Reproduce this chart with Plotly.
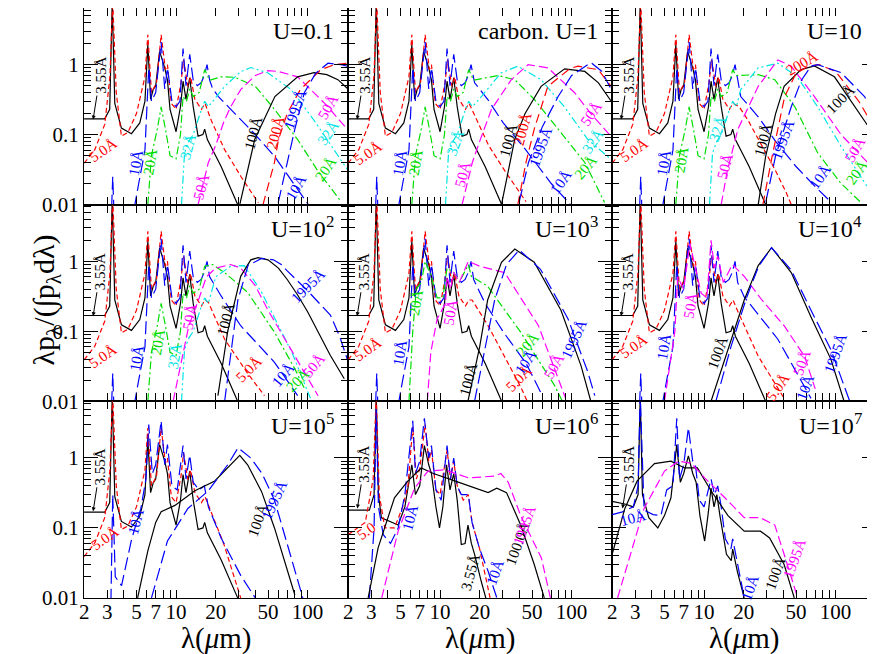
import numpy as np
import plotly.graph_objects as go
from plotly.subplots import make_subplots

# ---------------- data (wavelength in micron, normalised lambda*p_lambda) ----------------
# shared short-wavelength parts, read from the U=0.1 panel (same shape up to U=1e5)
a3_x = [2.0, 2.87, 3.13, 3.27, 3.42, 3.84, 4.58, 5.3, 5.8, 6.1, 6.4, 6.7, 7.0, 7.5, 8.2, 8.6, 9.0,
        10.0, 10.8, 11.3, 11.9, 12.7, 13.5, 14.7, 16.0, 16.5, 17.3, 22.0, 29.0, 33.0]
a3_y = [0.168, 0.168, 0.23, 8.0, 0.28, 0.124, 0.103, 0.147, 0.3, 1.94, 0.32, 0.44, 0.5, 1.55, 0.9, 0.6, 0.23,
        0.11, 0.25, 0.58, 0.32, 0.65, 0.25, 0.095, 0.1, 0.12, 0.085, 0.035, 0.0106, 0.006]

a5_x = [2.0, 2.41, 2.87, 3.14, 3.3, 3.51, 3.84, 4.3, 5.0, 5.8, 6.1, 6.5, 7.1, 7.7, 8.3, 8.6, 9.2,
        10.0, 10.9, 11.4, 12.3, 12.9, 13.9, 15.6, 16.6]
a5_y = [0.039, 0.061, 0.14, 0.67, 8.0, 0.40, 0.095, 0.107, 0.2, 0.67, 2.68, 0.4, 0.55, 2.68, 0.85, 1.0, 0.28,
        0.23, 0.55, 1.17, 0.49, 0.67, 0.32, 0.23, 0.28]

a10_x = [3.2, 3.3, 3.4, 4.7, 5.2, 5.8, 6.2, 6.5, 7.0, 7.7, 8.2, 8.6, 9.3, 10.0, 10.7, 11.3, 11.9, 12.7,
         13.5, 14.5, 15.5, 16.4, 17.2]
a10_y = [0.005, 0.025, 0.005, 0.007, 0.02, 0.06, 0.9, 0.3, 0.4, 2.1, 0.45, 0.9, 0.3, 0.25, 0.3, 1.7, 0.5, 1.4,
         0.6, 0.5, 0.55, 0.7, 1.0]

a20_x = [6.1, 6.5, 7.2, 7.7, 8.3, 9.0, 10.0, 10.8, 11.3, 12.0, 12.7, 13.5, 15.0, 16.5]
a20_y = [0.01, 0.05, 0.12, 0.25, 0.12, 0.05, 0.045, 0.1, 0.35, 0.3, 0.45, 0.35, 0.4, 0.85]

a32_x = [11.0, 11.6, 12.5, 13.5, 15.6, 16.5, 17.6]
a32_y = [0.01, 0.055, 0.08, 0.1, 0.23, 0.3, 0.25]

# U = 0.1
u01_a5_tx = [18.5, 23.4, 31.2, 42.2]
u01_a5_ty = [0.16, 0.061, 0.025, 0.0106]
u01_a10_tx = [18.0, 19.0, 21, 28, 40, 56, 84, 110]
u01_a10_ty = [0.6, 0.45, 0.35, 0.2, 0.1, 0.049, 0.016, 0.008]
u01_a20_tx = [18, 22, 28, 35, 40, 56, 84, 120, 180]
u01_a20_ty = [0.6, 0.67, 0.66, 0.55, 0.49, 0.23, 0.085, 0.03, 0.011]
u01_a32_tx = [19, 23.4, 31.2, 37, 50, 75, 112, 150, 200]
u01_a32_ty = [0.3, 0.49, 0.8, 0.91, 0.76, 0.44, 0.16, 0.07, 0.032]
u01_a50_x = [14.7, 17.6, 20, 23, 26, 31, 40, 50, 60, 84, 135, 200]
u01_a50_y = [0.01, 0.04, 0.07, 0.15, 0.25, 0.44, 0.7, 0.82, 0.8, 0.67, 0.28, 0.12]
u01_a100_x = [30.5, 39.6, 56.4, 84, 112, 140, 170, 200]
u01_a100_y = [0.01, 0.085, 0.35, 0.67, 0.77, 0.72, 0.61, 0.46]
u01_a200_x = [45.8, 56, 60, 70, 88, 126, 160, 200]
u01_a200_y = [0.01, 0.04, 0.085, 0.2, 0.44, 0.85, 1.0, 1.05]
u01_a1995_x = [59.8, 70, 80, 94.6, 115, 143, 180, 200]
u01_a1995_y = [0.0107, 0.04, 0.12, 0.40, 0.75, 1.05, 1.0, 0.95]

# U = 1
u1_a5_tx = [18.5, 23.4, 31.2, 45]
u1_a5_ty = [0.18, 0.07, 0.03, 0.011]
u1_a10_tx = [18.3, 23, 30, 45, 70, 98]
u1_a10_ty = [0.55, 0.32, 0.15, 0.06, 0.02, 0.01]
u1_a20_tx = [18, 27.5, 37, 52, 79, 126, 178]
u1_a20_ty = [0.6, 0.7, 0.61, 0.32, 0.12, 0.04, 0.0107]
u1_a32_tx = [20.6, 29, 39, 58.6, 88, 133, 200]
u1_a32_ty = [0.35, 0.76, 0.95, 0.61, 0.25, 0.085, 0.044]
u1_a50_x = [14.7, 17.6, 20, 24.6, 34.8, 46.7, 66, 105, 140, 200]
u1_a50_y = [0.01, 0.04, 0.08, 0.23, 0.61, 1.0, 0.9, 0.4, 0.2, 0.094]
u1_a100_x = [29.3, 36.9, 44.3, 58.6, 88.5, 126, 160, 200]
u1_a100_y = [0.01, 0.085, 0.2, 0.49, 0.87, 0.8, 0.55, 0.3]
u1_a200_x = [39, 45, 52, 66, 98, 112, 159, 200]
u1_a200_y = [0.01, 0.04, 0.12, 0.49, 0.89, 0.95, 0.85, 0.49]
u1_a1995_x = [40, 47, 60, 79, 100, 140, 170, 200]
u1_a1995_y = [0.011, 0.04, 0.13, 0.35, 0.7, 1.07, 0.8, 0.44]

# U = 10
u10_a5_tx = [18.5, 21.6, 34.5, 42, 46]
u10_a5_ty = [0.25, 0.16, 0.032, 0.015, 0.01]
u10_a10_tx = [19, 25.8, 35, 50, 70, 93]
u10_a10_ty = [0.35, 0.18, 0.08, 0.035, 0.018, 0.0107]
u10_a20_tx = [17.5, 25.8, 34.5, 49, 73, 110, 156]
u10_a20_ty = [0.7, 0.72, 0.61, 0.25, 0.055, 0.02, 0.0107]
u10_a32_tx = [19, 25.8, 36.4, 51, 73, 110, 156, 200]
u10_a32_ty = [0.44, 0.9, 1.05, 0.67, 0.25, 0.068, 0.025, 0.012]
u10_a50_x = [13.5, 15, 18.1, 25.8, 36.4, 46, 69, 110, 196]
u10_a50_y = [0.01, 0.03, 0.12, 0.49, 1.17, 0.95, 0.35, 0.1, 0.032]
u10_a100_x = [25.8, 29.4, 35, 40.6, 54.6, 69, 98, 166, 200]
u10_a100_y = [0.01, 0.049, 0.2, 0.49, 0.85, 0.96, 0.67, 0.16, 0.094]
u10_a200_x = [28, 33, 41, 50, 62, 75, 100, 150, 200]
u10_a200_y = [0.01, 0.05, 0.35, 0.75, 0.95, 1.0, 0.8, 0.3, 0.12]
u10_a1995_x = [29.5, 35, 46, 55, 65, 73, 110, 166, 200]
u10_a1995_y = [0.011, 0.05, 0.25, 0.6, 0.95, 1.0, 0.77, 0.35, 0.18]

# U = 1e2
u2_a5_tx = [17.6, 23.4, 35, 47]
u2_a5_ty = [0.26, 0.077, 0.025, 0.012]
u2_a10_tx = [18, 22, 31, 56, 84]
u2_a10_ty = [0.6, 0.32, 0.12, 0.036, 0.012]
u2_a20_tx = [19, 23.4, 35, 56, 80, 95]
u2_a20_ty = [0.9, 0.69, 0.36, 0.097, 0.029, 0.015]
u2_a32_tx = [20, 26, 33, 44.7, 60, 76, 105]
u2_a32_ty = [0.6, 0.85, 0.87, 0.36, 0.12, 0.05, 0.011]
u2_a50_x = [9.5, 11, 12.5, 15, 17, 20, 26, 31, 40, 50, 80, 120]
u2_a50_y = [0.01, 0.04, 0.12, 0.3, 0.6, 0.8, 0.9, 0.8, 0.45, 0.2, 0.044, 0.012]
u2_a100_x = [20.8, 24.7, 31, 37, 42, 50, 60, 70, 84, 100, 149, 190]
u2_a100_y = [0.012, 0.1, 0.61, 1.05, 1.13, 1.05, 0.8, 0.55, 0.33, 0.19, 0.045, 0.021]
u2_a1995_x = [23.4, 29.5, 35.2, 44.7, 55, 63, 70, 100, 149, 175, 200]
u2_a1995_y = [0.01, 0.28, 0.87, 1.1, 1.05, 0.9, 0.73, 0.38, 0.17, 0.085, 0.04]

# U = 1e3
u3_a5_tx = [17.5, 23.2, 41, 46]
u3_a5_ty = [0.28, 0.12, 0.016, 0.01]
u3_a10_tx = [18, 22, 30, 45, 60]
u3_a10_ty = [0.55, 0.25, 0.1, 0.035, 0.012]
u3_a20_x = [5.8, 6.2, 6.6, 7.2, 7.7, 8.6, 9.5, 10.5, 11.3, 12.7, 14.0, 16.4, 17.3, 23, 41, 74, 85]
u3_a20_y = [0.01, 0.1, 0.4, 0.5, 1.0, 0.6, 0.3, 0.3, 0.8, 0.7, 0.5, 0.9, 0.61, 0.44, 0.097, 0.017, 0.01]
u3_a50_x = [8.0, 8.5, 9.5, 11, 11.3, 12, 12.7, 14, 16.4, 20, 31, 56, 90]
u3_a50_y = [0.01, 0.05, 0.15, 0.25, 0.6, 0.4, 0.7, 0.5, 1.0, 0.85, 0.69, 0.12, 0.011]
u3_a100_x = [16.3, 20, 23, 29.3, 37, 52, 83, 118, 140]
u3_a100_y = [0.01, 0.06, 0.28, 0.97, 1.5, 0.97, 0.2, 0.032, 0.01]
u3_a1995_x = [18.3, 22, 26, 32, 40, 58, 94, 133, 150]
u3_a1995_y = [0.01, 0.06, 0.28, 0.9, 1.45, 0.77, 0.15, 0.026, 0.012]

# U = 1e4
u4_a5_tx = [17.5, 25.8, 40.6]
u4_a5_ty = [0.22, 0.044, 0.011]
u4_a10_tx = [18, 20.2, 36.4, 65]
u4_a10_ty = [0.5, 0.31, 0.077, 0.011]
u4_a50_x = [5.0, 6.0, 6.3, 7.0, 7.8, 8.6, 9.5, 10.5, 11.3, 12.0, 12.7, 14.0, 16.4, 20.2, 27.5, 40.6, 58, 70]
u4_a50_y = [0.01, 0.1, 0.6, 0.4, 1.8, 0.8, 0.35, 0.3, 2.0, 0.8, 1.2, 0.5, 0.9, 0.61, 0.28, 0.12, 0.044, 0.015]
u4_a100_x = [11.3, 15.2, 20.2, 25.8, 32.6, 46, 65, 92, 116]
u4_a100_y = [0.01, 0.055, 0.28, 0.87, 1.57, 0.69, 0.16, 0.04, 0.01]
u4_a1995_x = [12.3, 16, 21, 26, 32.6, 46, 65, 92, 128]
u4_a1995_y = [0.01, 0.06, 0.3, 0.85, 1.57, 0.75, 0.2, 0.055, 0.01]

# U = 1e5
u5_a5_tx = [17.6, 23, 31]
u5_a5_ty = [0.21, 0.06, 0.01]
u5_a10_x = [2.9, 3.2, 3.3, 3.45, 3.85, 4.6, 5.4, 5.9, 6.2, 6.6, 7.0, 7.7, 8.2, 8.6, 9.3, 10.2, 11.3,
            11.9, 12.7, 13.5, 15.0, 16.4, 17.6, 22, 31, 40]
u5_a10_y = [0.005, 0.01, 0.3, 0.02, 0.015, 0.07, 0.19, 0.5, 3.0, 0.6, 0.8, 3.4, 0.8, 1.55, 0.4, 0.35, 1.5,
            0.5, 1.1, 0.45, 0.35, 0.4, 0.2, 0.072, 0.021, 0.01]
u5_a100_x = [5.1, 6.1, 7.0, 7.7, 9.8, 13.9, 19.7, 27.9, 30.5, 35, 44.7, 56, 80]
u5_a100_y = [0.01, 0.047, 0.12, 0.17, 0.21, 0.34, 0.47, 0.9, 1.09, 0.8, 0.33, 0.1, 0.011]
u5_a1995_x = [6.5, 8.6, 12.3, 17.6, 24.7, 29.6, 37, 45, 56, 67, 80, 92]
u5_a1995_y = [0.01, 0.065, 0.19, 0.34, 0.8, 1.4, 1.0, 0.6, 0.25, 0.08, 0.025, 0.01]

# U = 1e6
u6_a3_x = [2.0, 2.9, 3.15, 3.27, 3.4, 3.58, 4.8, 5.4, 6.1, 6.5, 7.0, 7.6, 8.2, 8.6, 9.3, 9.9, 10.5, 11.2,
           11.9, 12.7, 13.5, 14.5, 15.5, 16.3, 17.3, 18.3, 20.6, 22.0, 24.0]
u6_a3_y = [0.18, 0.18, 0.3, 8.0, 0.3, 0.14, 0.11, 0.2, 0.8, 0.3, 0.4, 1.5, 0.8, 0.6, 0.2, 0.1, 0.2, 0.8,
           0.35, 0.6, 0.25, 0.058, 0.06, 0.11, 0.06, 0.042, 0.017, 0.01, 0.006]
u6_a5_x = [2.0, 2.7, 3.1, 3.27, 3.45, 3.8, 4.5, 5.2, 5.7, 6.2, 6.6, 7.0, 7.7, 8.2, 8.6, 9.3, 10.0, 11.3,
           12.0, 12.7, 13.5, 15.0, 16.4, 17.5, 20.0, 24.0]
u6_a5_y = [0.08, 0.12, 0.5, 8.0, 0.3, 0.1, 0.1, 0.2, 0.4, 2.8, 0.5, 0.7, 3.0, 0.9, 1.3, 0.35, 0.3, 1.3,
           0.5, 0.9, 0.4, 0.25, 0.3, 0.12, 0.05, 0.01]
u6_a10_x = [2.9, 3.15, 3.27, 3.4, 3.7, 4.2, 4.8, 5.4, 6.2, 6.5, 7.0, 7.6, 8.2, 8.6, 9.3, 10.2, 11.3, 12.0,
            12.7, 13.5, 14.5, 16.4, 17.5, 20.0, 23.2, 27.0]
u6_a10_y = [0.01, 0.1, 5.0, 0.2, 0.08, 0.06, 0.1, 0.3, 3.4, 0.6, 0.9, 3.7, 1.0, 1.5, 0.35, 0.25, 1.5, 0.5,
            1.0, 0.4, 0.3, 0.3, 0.12, 0.05, 0.024, 0.01]
u6_a100_x = [2.84, 3.38, 4.5, 5.7, 7.2, 8.9, 12.9, 18.3, 23.2, 27, 32, 41, 52, 62]
u6_a100_y = [0.01, 0.052, 0.27, 0.47, 0.72, 0.6, 0.47, 0.37, 0.32, 0.37, 0.32, 0.11, 0.03, 0.01]
u6_a1995_x = [3.6, 4.8, 6.4, 8.1, 10.8, 16.4, 26, 29, 33, 41, 59, 69]
u6_a1995_y = [0.01, 0.09, 0.37, 0.65, 0.68, 0.52, 0.55, 0.6, 0.45, 0.15, 0.037, 0.01]

# U = 1e7
u7_a3_x = [2.0, 2.5, 2.9, 3.15, 3.27, 3.4, 3.8, 4.45, 5.0, 5.6, 6.2, 6.6, 7.0, 7.6, 8.2, 8.7, 9.3, 10.1,
           10.7, 11.3, 11.9, 12.5, 13.2, 14.8, 16.1, 16.5, 17.9, 20.2]
u7_a3_y = [0.24, 0.22, 0.2, 0.3, 8.0, 0.3, 0.14, 0.1, 0.15, 0.27, 1.55, 0.45, 0.6, 1.07, 0.6, 0.45, 0.15, 0.065,
           0.15, 0.37, 0.2, 0.3, 0.15, 0.042, 0.034, 0.05, 0.024, 0.01]
u7_a10_x = [2.0, 2.4, 2.9, 3.15, 3.27, 3.5, 4.1, 4.7, 5.2, 5.8, 6.2, 6.5, 7.0, 7.6, 8.2, 8.6, 9.2, 10.0,
            11.3, 12.0, 12.7, 13.5, 14.5, 16.0, 16.5, 17.5, 20.2]
u7_a10_y = [0.155, 0.17, 0.2, 0.4, 8.0, 0.18, 0.155, 0.15, 0.35, 0.4, 3.7, 0.5, 0.8, 2.7, 0.9, 0.8, 0.25, 0.2,
            0.5, 0.3, 0.4, 0.2, 0.07, 0.05, 0.07, 0.04, 0.01]
u7_a100_x = [2.0, 2.5, 3.1, 4.2, 5.6, 7.1, 8.9, 11.3, 15.2, 20.2, 26.8, 31.5, 40.6, 48.5]
u7_a100_y = [0.042, 0.19, 0.47, 0.83, 0.9, 0.72, 0.72, 0.34, 0.15, 0.09, 0.09, 0.072, 0.03, 0.01]
u7_a1995_x = [2.2, 2.8, 3.5, 5.0, 6.4, 8.0, 10.1, 14.4, 20.2, 26.8, 34.5, 40.6, 51.5]
u7_a1995_y = [0.01, 0.047, 0.19, 0.65, 0.9, 0.84, 0.52, 0.27, 0.14, 0.14, 0.11, 0.042, 0.01]

TITLES = ["U=0.1", "carbon. U=1", "U=10", "U=10<sup>2</sup>", "U=10<sup>3</sup>", "U=10<sup>4</sup>",
          "U=10<sup>5</sup>", "U=10<sup>6</sup>", "U=10<sup>7</sup>"]

# ---------------- styles ----------------
COL = {'k': 'black', 'r': '#ff0000', 'b': '#0000ff', 'g': '#00dd00', 'c': '#00e5e5', 'm': '#ff00ff'}
STYLE = {
    'a3': ('k', 'solid'),
    'a5': ('r', '5px,3px'),
    'a10': ('b', '13px,5px'),
    'a20': ('g', '8px,3px,2px,3px'),
    'a32': ('c', '8px,3px,2px,3px,2px,3px'),
    'a50': ('m', '9px,4px'),
    'a100': ('k', 'solid'),
    'a200': ('r', '9px,5px'),
    'a1995': ('b', '13px,5px'),
    'a1995m': ('m', '9px,4px'),
}

PANELS = [
    [('a3', a3_x, a3_y), ('a5', a5_x + u01_a5_tx, a5_y + u01_a5_ty),
     ('a10', a10_x + u01_a10_tx, a10_y + u01_a10_ty), ('a20', a20_x + u01_a20_tx, a20_y + u01_a20_ty),
     ('a32', a32_x + u01_a32_tx, a32_y + u01_a32_ty), ('a50', u01_a50_x, u01_a50_y),
     ('a100', u01_a100_x, u01_a100_y), ('a200', u01_a200_x, u01_a200_y), ('a1995', u01_a1995_x, u01_a1995_y)],
    [('a3', a3_x, a3_y), ('a5', a5_x + u1_a5_tx, a5_y + u1_a5_ty),
     ('a10', a10_x + u1_a10_tx, a10_y + u1_a10_ty), ('a20', a20_x + u1_a20_tx, a20_y + u1_a20_ty),
     ('a32', a32_x + u1_a32_tx, a32_y + u1_a32_ty), ('a50', u1_a50_x, u1_a50_y),
     ('a100', u1_a100_x, u1_a100_y), ('a200', u1_a200_x, u1_a200_y), ('a1995', u1_a1995_x, u1_a1995_y)],
    [('a3', a3_x, a3_y), ('a5', a5_x + u10_a5_tx, a5_y + u10_a5_ty),
     ('a10', a10_x + u10_a10_tx, a10_y + u10_a10_ty), ('a20', a20_x + u10_a20_tx, a20_y + u10_a20_ty),
     ('a32', a32_x + u10_a32_tx, a32_y + u10_a32_ty), ('a50', u10_a50_x, u10_a50_y),
     ('a100', u10_a100_x, u10_a100_y), ('a200', u10_a200_x, u10_a200_y), ('a1995', u10_a1995_x, u10_a1995_y)],
    [('a3', a3_x, a3_y), ('a5', a5_x + u2_a5_tx, a5_y + u2_a5_ty),
     ('a10', a10_x + u2_a10_tx, a10_y + u2_a10_ty), ('a20', a20_x + u2_a20_tx, a20_y + u2_a20_ty),
     ('a32', a32_x + u2_a32_tx, a32_y + u2_a32_ty), ('a50', u2_a50_x, u2_a50_y),
     ('a100', u2_a100_x, u2_a100_y), ('a1995', u2_a1995_x, u2_a1995_y)],
    [('a3', a3_x, a3_y), ('a5', a5_x + u3_a5_tx, a5_y + u3_a5_ty),
     ('a10', a10_x + u3_a10_tx, a10_y + u3_a10_ty), ('a20', u3_a20_x, u3_a20_y),
     ('a50', u3_a50_x, u3_a50_y), ('a100', u3_a100_x, u3_a100_y), ('a1995', u3_a1995_x, u3_a1995_y)],
    [('a3', a3_x, a3_y), ('a5', a5_x + u4_a5_tx, a5_y + u4_a5_ty),
     ('a10', a10_x + u4_a10_tx, a10_y + u4_a10_ty), ('a50', u4_a50_x, u4_a50_y),
     ('a100', u4_a100_x, u4_a100_y), ('a1995', u4_a1995_x, u4_a1995_y)],
    [('a3', a3_x, a3_y), ('a5', a5_x + u5_a5_tx, a5_y + u5_a5_ty), ('a10', u5_a10_x, u5_a10_y),
     ('a100', u5_a100_x, u5_a100_y), ('a1995', u5_a1995_x, u5_a1995_y)],
    [('a3', u6_a3_x, u6_a3_y), ('a5', u6_a5_x, u6_a5_y), ('a10', u6_a10_x, u6_a10_y),
     ('a100', u6_a100_x, u6_a100_y), ('a1995m', u6_a1995_x, u6_a1995_y)],
    [('a3', u7_a3_x, u7_a3_y), ('a10', u7_a10_x, u7_a10_y),
     ('a100', u7_a100_x, u7_a100_y), ('a1995m', u7_a1995_x, u7_a1995_y)],
]

# curve labels: text, lambda, value, angle, colour
A = "\u00c5"
LABELS = [
    [("5.0" + A, 2.8, 0.061, -35, 'r'), ("10" + A, 5.0, 0.04, -80, 'b'), ("20" + A, 6.4, 0.04, -80, 'g'),
     ("32" + A, 12.3, 0.067, -75, 'c'), ("50" + A, 15.5, 0.018, -75, 'm'), ("100" + A, 38.5, 0.107, -75, 'k'),
     ("200" + A, 57, 0.11, -75, 'r'), ("1995" + A, 81, 0.23, -70, 'b'), ("50" + A, 143, 0.25, -60, 'm'),
     ("32" + A, 143, 0.107, -55, 'c'), ("20" + A, 138, 0.032, -55, 'g'), ("10" + A, 81, 0.0175, -60, 'b')],
    [("5.0" + A, 2.85, 0.055, -35, 'r'), ("10" + A, 5.0, 0.04, -80, 'b'), ("20" + A, 6.6, 0.04, -80, 'g'),
     ("32" + A, 13, 0.077, -70, 'c'), ("50" + A, 15, 0.027, -75, 'm'), ("100" + A, 33, 0.085, -75, 'k'),
     ("200" + A, 42.5, 0.12, -75, 'r'), ("1995" + A, 58, 0.067, -70, 'b'), ("10" + A, 83, 0.021, -55, 'b'),
     ("20" + A, 129, 0.034, -50, 'g'), ("32" + A, 146, 0.081, -55, 'c'), ("50" + A, 140, 0.2, -55, 'm')],
    [("5.0" + A, 2.95, 0.061, -35, 'r'), ("10" + A, 5.0, 0.04, -80, 'b'), ("20" + A, 6.7, 0.044, -80, 'g'),
     ("32" + A, 12.7, 0.12, -70, 'c'), ("50" + A, 14.3, 0.035, -75, 'm'), ("100" + A, 28, 0.085, -75, 'k'),
     ("1995" + A, 39.5, 0.085, -70, 'b'), ("200" + A, 56, 1.07, -30, 'r'), ("100" + A, 110, 0.32, -45, 'k'),
     ("10" + A, 76, 0.025, -55, 'b'), ("50" + A, 140, 0.061, -60, 'm'), ("20" + A, 146, 0.029, -55, 'g')],
    [("5.0" + A, 2.8, 0.044, -35, 'r'), ("10" + A, 5.0, 0.042, -80, 'b'), ("20" + A, 7.3, 0.07, -80, 'g'),
     ("32" + A, 9.8, 0.044, -80, 'c'), ("50" + A, 12.7, 0.16, -80, 'm'), ("100" + A, 24, 0.15, -75, 'k'),
     ("5.0" + A, 36, 0.029, -45, 'r'), ("10" + A, 65, 0.024, -50, 'b'), ("20" + A, 85, 0.02, -45, 'g'),
     ("50" + A, 111, 0.032, -50, 'm'), ("1995" + A, 101, 0.44, -45, 'b')],
    [("5.0" + A, 2.85, 0.055, -35, 'r'), ("10" + A, 5.0, 0.05, -80, 'b'), ("20" + A, 6.6, 0.26, -80, 'g'),
     ("50" + A, 12, 0.19, -80, 'm'), ("100" + A, 16.4, 0.021, -75, 'k'), ("5.0" + A, 39.5, 0.021, -45, 'r'),
     ("20" + A, 47, 0.065, -50, 'g'), ("10" + A, 45, 0.036, -55, 'b'), ("50" + A, 74, 0.032, -60, 'm'),
     ("1995" + A, 105, 0.077, -65, 'b')],
    [("5.0" + A, 2.95, 0.061, -35, 'r'), ("10" + A, 5.0, 0.061, -80, 'b'), ("50" + A, 7.9, 0.23, -80, 'm'),
     ("100" + A, 12.8, 0.05, -70, 'k'), ("5.0" + A, 36.5, 0.016, -55, 'r'), ("50" + A, 56, 0.036, -70, 'm'),
     ("10" + A, 59, 0.016, -70, 'b'), ("1995" + A, 99, 0.048, -70, 'b')],
    [("5.0" + A, 2.9, 0.072, -35, 'r'), ("10" + A, 5.0, 0.124, -75, 'b'), ("100" + A, 42, 0.13, -70, 'k'),
     ("1995" + A, 56, 0.25, -65, 'b')],
    [("5.0", 2.75, 0.09, -35, 'r'), ("10" + A, 5.9, 0.14, -75, 'b'), ("100.0" + A, 39, 0.061, -70, 'k'),
     ("1995" + A, 44, 0.11, -70, 'm'), ("3.55" + A, 16.9, 0.023, -75, 'k'), ("10" + A, 26, 0.023, -70, 'b')],
    [("10" + A, 2.9, 0.14, -15, 'b'), ("100" + A, 34.8, 0.023, -70, 'k'), ("1995" + A, 49, 0.037, -70, 'm'),
     ("10" + A, 22.3, 0.014, -70, 'b')],
]
# 3.55 A label: arrow tip (lambda, value)
ARROW_TIP = [(2.34, 0.164)] * 6 + [(2.34, 0.173), (2.35, 0.19), (2.4, 0.19)]

SERIF = "Liberation Serif"

fig = make_subplots(rows=3, cols=3, horizontal_spacing=0, vertical_spacing=0)

for i, curves in enumerate(PANELS):
    r, c = i // 3 + 1, i % 3 + 1
    for key, xs, ys in curves:
        ck, dash = STYLE[key]
        fig.add_trace(go.Scatter(x=xs, y=ys, mode='lines', showlegend=False, hoverinfo='skip',
                                 line=dict(color=COL[ck], dash=dash, width=1.2)), row=r, col=c)
    n = '' if i == 0 else str(i + 1)
    xr, yr = 'x' + n, 'y' + n
    for txt, lx, ly, ang, ck in LABELS[i]:
        fig.add_annotation(x=np.log10(lx), y=np.log10(ly), xref=xr, yref=yr, text=txt, textangle=ang,
                           showarrow=False, font=dict(family=SERIF, size=15, color=COL[ck]))
    tx, ty = ARROW_TIP[i]
    fig.add_annotation(x=np.log10(tx), y=np.log10(ty), xref=xr, yref=yr, text="3.55" + A, textangle=-90,
                       showarrow=True, ax=7, ay=-44, arrowhead=2, arrowsize=0.8, arrowwidth=1,
                       arrowcolor='black', font=dict(family=SERIF, size=15, color='black'))
    fig.add_annotation(x=0.955, y=0.885, xref=xr + ' domain', yref=yr + ' domain', text=TITLES[i],
                       xanchor='right', yanchor='middle', showarrow=False,
                       font=dict(family=SERIF, size=24, color='black'))

xt = [2, 3, 4, 5, 6, 7, 8, 9, 10, 20, 30, 40, 50, 60, 70, 80, 90, 100, 200]
xl = ['2', '3', '', '5', '', '7', '', '', '10', '20', '', '', '50', '', '', '', '', '100', '']
fig.update_xaxes(type='log', range=[np.log10(2) - 0.001, np.log10(2) + 264 / 131.6],
                 tickvals=xt, ticktext=xl, ticks='inside', ticklen=8, tickwidth=1, tickcolor='black',
                 showline=True, linecolor='black', linewidth=1.3, mirror='ticks', showgrid=False,
                 zeroline=False, tickfont=dict(family=SERIF, size=21, color='black'), showticklabels=False,
                 ticklabelstandoff=-5)
fig.update_xaxes(showticklabels=True, row=3)

yminor = [0.02, 0.03, 0.04, 0.05, 0.06, 0.07, 0.08, 0.09, 0.2, 0.3, 0.4, 0.5, 0.6, 0.7, 0.8, 0.9,
          2, 3, 4, 5, 6]
fig.update_yaxes(type='log', range=[-2.0015, 0.81], tickvals=[0.01, 0.1, 1], ticktext=['0.01', '0.1', '1'],
                 ticks='inside', ticklen=14, tickwidth=1, tickcolor='black',
                 minor=dict(tickvals=yminor, ticks='inside', ticklen=7, tickcolor='black', tickwidth=1),
                 showline=True, linecolor='black', linewidth=1.3, mirror='ticks', showgrid=False,
                 zeroline=False, tickfont=dict(family=SERIF, size=21, color='black'), showticklabels=False)
fig.update_yaxes(showticklabels=True, col=1)

for c in range(3):
    fig.add_annotation(x=(c + 0.5) / 3, y=-0.068, xref='paper', yref='paper', showarrow=False,
                       xanchor='center', yanchor='middle',
                       text="\u03bb(<i>\u03bc</i>m)", font=dict(family=SERIF, size=29, color='black'))
fig.add_annotation(x=-0.074, y=0.505, xref='paper', yref='paper', showarrow=False, textangle=-90,
                   text="\u03bbp<sub>\u03bb</sub>/(\u222bp<sub>\u03bb</sub>d\u03bb)",
                   font=dict(family=SERIF, size=30, color='black'))

fig.update_layout(width=875, height=654, margin=dict(l=76, r=7, t=0, b=64),
                  paper_bgcolor='white', plot_bgcolor='white')
fig.write_html("out.html")
